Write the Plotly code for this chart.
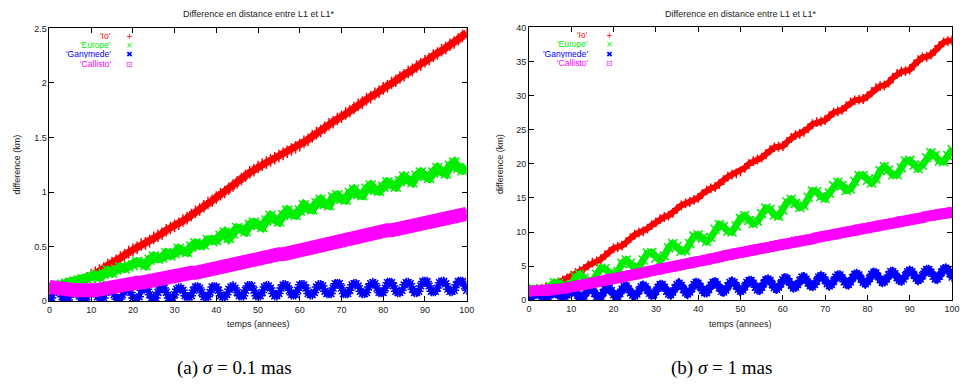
import plotly.graph_objects as go

W, H = 966, 389

# ---------------- data ----------------
years = list(range(101))
half_years = [i / 2 for i in range(201)]

# (a) sigma = 0.1 mas  -- difference in km
io_a = [0.10, 0.11, 0.11, 0.12, 0.13, 0.14, 0.16, 0.17, 0.19, 0.21,
        0.24, 0.26, 0.28, 0.30, 0.33, 0.35, 0.37, 0.40, 0.42, 0.45,
        0.47, 0.49, 0.52, 0.53, 0.55, 0.58, 0.60, 0.62, 0.65, 0.67,
        0.69, 0.71, 0.74, 0.76, 0.79, 0.82, 0.84, 0.87, 0.90, 0.92,
        0.95, 0.98, 1.00, 1.03, 1.06, 1.09, 1.12, 1.15, 1.18, 1.20,
        1.23, 1.25, 1.27, 1.29, 1.31, 1.33, 1.35, 1.37, 1.39, 1.41,
        1.43, 1.46, 1.48, 1.51, 1.54, 1.56, 1.59, 1.62, 1.64, 1.67,
        1.69, 1.72, 1.74, 1.77, 1.80, 1.82, 1.85, 1.87, 1.90, 1.92,
        1.95, 1.97, 2.00, 2.02, 2.05, 2.07, 2.10, 2.12, 2.15, 2.17,
        2.20, 2.22, 2.25, 2.27, 2.30, 2.32, 2.35, 2.37, 2.40, 2.43, 2.46]

europe_a = [0.12, 0.13, 0.14, 0.15, 0.16, 0.17, 0.18, 0.19, 0.20, 0.20,
            0.21, 0.24, 0.22, 0.25, 0.28, 0.26, 0.29, 0.31, 0.30, 0.32,
            0.33, 0.36, 0.35, 0.33, 0.38, 0.41, 0.39, 0.40, 0.44, 0.42,
            0.44, 0.48, 0.46, 0.45, 0.50, 0.53, 0.51, 0.52, 0.56, 0.55,
            0.56, 0.60, 0.63, 0.58, 0.62, 0.67, 0.66, 0.64, 0.70, 0.72,
            0.70, 0.68, 0.74, 0.78, 0.75, 0.73, 0.79, 0.83, 0.80, 0.79,
            0.83, 0.88, 0.85, 0.84, 0.90, 0.93, 0.89, 0.88, 0.95, 0.97,
            0.94, 0.93, 0.99, 1.02, 0.98, 0.97, 1.03, 1.06, 1.02, 1.01,
            1.05, 1.09, 1.07, 1.05, 1.10, 1.14, 1.11, 1.09, 1.15, 1.18,
            1.15, 1.13, 1.18, 1.22, 1.19, 1.17, 1.24, 1.27, 1.22, 1.20, 1.22]

ganymede_a = [0.01, 0.03, 0.08, 0.10, 0.10, 0.09, 0.04, 0.01, 0.01, 0.01,
              0.06, 0.10, 0.10, 0.10, 0.06, 0.02, 0.01, 0.01, 0.04, 0.09,
              0.10, 0.10, 0.09, 0.04, 0.02, 0.02, 0.03, 0.08, 0.11, 0.11,
              0.11, 0.06, 0.02, 0.02, 0.02, 0.06, 0.11, 0.11, 0.11, 0.08,
              0.03, 0.02, 0.02, 0.04, 0.10, 0.12, 0.12, 0.11, 0.06, 0.03,
              0.03, 0.03, 0.08, 0.12, 0.12, 0.12, 0.08, 0.03, 0.03, 0.03,
              0.06, 0.11, 0.12, 0.12, 0.10, 0.05, 0.04, 0.04, 0.05, 0.10,
              0.13, 0.13, 0.12, 0.08, 0.04, 0.04, 0.04, 0.08, 0.13, 0.13,
              0.13, 0.10, 0.05, 0.04, 0.04, 0.06, 0.11, 0.13, 0.14, 0.12,
              0.08, 0.05, 0.05, 0.05, 0.10, 0.14, 0.14, 0.14, 0.10, 0.05,
              0.05, 0.05, 0.08, 0.13, 0.14, 0.14, 0.12, 0.07, 0.05, 0.05,
              0.07, 0.12, 0.15, 0.15, 0.14, 0.10, 0.06, 0.06, 0.06, 0.10,
              0.15, 0.15, 0.15, 0.12, 0.07, 0.06, 0.06, 0.08, 0.13, 0.15,
              0.15, 0.14, 0.09, 0.07, 0.07, 0.07, 0.12, 0.16, 0.16, 0.16,
              0.12, 0.07, 0.07, 0.07, 0.10, 0.15, 0.16, 0.16, 0.14, 0.09,
              0.07, 0.07, 0.08, 0.13, 0.16, 0.17, 0.16, 0.12, 0.08, 0.08,
              0.08, 0.12, 0.17, 0.17, 0.17, 0.14, 0.09, 0.08, 0.08, 0.10,
              0.15, 0.17, 0.17, 0.16, 0.11, 0.08, 0.08, 0.09, 0.14, 0.18,
              0.18, 0.18, 0.14, 0.09, 0.09, 0.09, 0.12, 0.17, 0.18, 0.18,
              0.16, 0.11, 0.09, 0.09, 0.10, 0.15, 0.18, 0.18, 0.18, 0.14,
              0.10]

callisto_a = [0.13, 0.12, 0.12, 0.11, 0.11, 0.10, 0.10, 0.10, 0.09, 0.09,
              0.10, 0.10, 0.11, 0.11, 0.12, 0.12, 0.13, 0.14, 0.15, 0.15,
              0.16, 0.17, 0.17, 0.18, 0.19, 0.19, 0.20, 0.21, 0.21, 0.22,
              0.22, 0.23, 0.24, 0.25, 0.26, 0.26, 0.27, 0.28, 0.29, 0.29,
              0.30, 0.31, 0.32, 0.33, 0.33, 0.34, 0.35, 0.36, 0.37, 0.37,
              0.38, 0.39, 0.40, 0.41, 0.42, 0.43, 0.43, 0.44, 0.45, 0.46,
              0.47, 0.48, 0.49, 0.49, 0.50, 0.51, 0.52, 0.53, 0.53, 0.54,
              0.55, 0.56, 0.57, 0.58, 0.59, 0.59, 0.60, 0.61, 0.62, 0.63,
              0.64, 0.65, 0.65, 0.66, 0.67, 0.68, 0.69, 0.70, 0.70, 0.71,
              0.72, 0.73, 0.74, 0.75, 0.75, 0.76, 0.77, 0.78, 0.79, 0.79, 0.80]

# (b) sigma = 1 mas  -- difference in km
io_b = [1.5, 1.5, 1.6, 1.7, 1.8, 2.0, 2.3, 2.6, 2.9, 3.2,
        3.6, 4.0, 4.3, 4.6, 5.1, 5.5, 5.7, 6.0, 6.6, 7.1,
        7.6, 7.8, 8.0, 8.5, 9.1, 9.6, 9.9, 10.1, 10.5, 11.0,
        11.4, 11.9, 12.2, 12.4, 12.8, 13.4, 13.9, 14.2, 14.4, 14.7,
        15.0, 15.6, 16.1, 16.4, 16.6, 17.0, 17.6, 18.1, 18.4, 18.6,
        18.9, 19.4, 20.0, 20.4, 20.6, 20.9, 21.4, 22.0, 22.4, 22.5,
        22.6, 23.2, 23.8, 24.2, 24.4, 24.7, 25.2, 25.8, 26.1, 26.2,
        26.4, 27.0, 27.5, 27.7, 27.9, 28.4, 29.0, 29.3, 29.4, 29.5,
        29.9, 30.5, 31.1, 31.4, 31.5, 31.9, 32.6, 33.2, 33.5, 33.6,
        33.8, 34.5, 35.2, 35.6, 35.7, 36.0, 36.6, 37.3, 37.8, 38.0, 38.1]

europe_b = [1.5, 1.7, 1.6, 1.4, 1.6, 2.0, 2.6, 2.5, 2.1, 2.0,
            2.3, 3.4, 3.8, 3.2, 2.6, 2.8, 3.8, 4.7, 4.6, 3.9,
            3.5, 4.2, 5.4, 5.9, 5.4, 4.7, 4.9, 5.9, 6.9, 7.0,
            6.2, 5.8, 6.5, 7.7, 8.3, 7.9, 7.2, 7.3, 8.3, 9.4,
            9.6, 9.1, 8.6, 9.2, 10.4, 11.1, 10.8, 10.1, 10.0, 10.9,
            12.0, 12.4, 11.7, 11.2, 11.6, 12.7, 13.5, 13.3, 12.5, 12.3,
            13.2, 14.4, 14.8, 14.2, 13.6, 13.9, 15.1, 16.0, 15.9, 15.2,
            14.9, 15.7, 16.8, 17.3, 16.8, 16.1, 16.3, 17.4, 18.3, 18.3,
            17.6, 17.2, 17.8, 19.0, 19.6, 19.1, 18.4, 18.4, 19.4, 20.4,
            20.5, 19.8, 19.3, 19.8, 20.9, 21.6, 21.2, 20.4, 20.3, 21.2, 22.1]

ganymede_b = [0.3, 0.5, 0.7, 0.9, 1.0, 0.8, 0.6, 0.5, 0.4, 0.5,
              0.8, 1.0, 1.1, 1.0, 0.8, 0.6, 0.5, 0.6, 0.8, 1.0,
              1.7, 1.6, 1.2, 0.7, 0.2, 0.2, 0.6, 1.2, 1.7, 1.8,
              1.6, 1.0, 0.5, 0.3, 0.5, 1.1, 1.6, 1.9, 1.8, 1.4,
              0.8, 0.5, 0.5, 1.0, 1.6, 2.0, 2.1, 1.7, 1.1, 0.7,
              0.6, 0.9, 1.4, 2.0, 2.2, 2.0, 1.5, 1.0, 0.7, 0.8,
              1.3, 1.9, 2.3, 2.3, 1.9, 1.3, 0.9, 0.8, 1.2, 1.8,
              2.3, 2.5, 2.2, 1.6, 1.1, 0.9, 1.2, 1.7, 2.3, 2.6,
              2.5, 2.0, 1.4, 1.1, 1.1, 1.6, 2.2, 2.6, 2.7, 2.3,
              1.8, 1.3, 1.2, 1.5, 2.1, 2.6, 2.8, 2.6, 2.1, 1.6,
              1.3, 1.5, 2.0, 2.6, 2.9, 2.9, 2.5, 1.9, 1.5, 1.5,
              1.9, 2.5, 3.0, 3.1, 2.9, 2.3, 1.8, 1.6, 1.9, 2.4,
              3.0, 3.3, 3.2, 2.7, 2.2, 1.8, 1.9, 2.3, 2.9, 3.4,
              3.4, 3.1, 2.5, 2.1, 2.0, 2.3, 2.8, 3.4, 3.6, 3.4,
              2.9, 2.4, 2.1, 2.3, 2.8, 3.4, 3.7, 3.7, 3.3, 2.7,
              2.3, 2.3, 2.7, 3.3, 3.8, 3.9, 3.7, 3.1, 2.6, 2.4,
              2.7, 3.2, 3.8, 4.1, 4.0, 3.5, 3.0, 2.6, 2.7, 3.1,
              3.7, 4.2, 4.2, 3.9, 3.3, 2.9, 2.8, 3.1, 3.6, 4.2,
              4.4, 4.2, 3.7, 3.2, 2.9, 3.1, 3.6, 4.2, 4.5, 4.5,
              4.1, 3.5, 3.1, 3.1, 3.5, 4.1, 4.6, 4.7, 4.5, 3.9,
              3.4]

callisto_b = [1.3, 1.3, 1.3, 1.3, 1.3, 1.4, 1.5, 1.6, 1.7, 1.8,
              1.9, 2.0, 2.2, 2.3, 2.4, 2.6, 2.7, 2.8, 2.9, 3.1,
              3.2, 3.3, 3.4, 3.6, 3.7, 3.8, 3.9, 4.0, 4.2, 4.3,
              4.4, 4.5, 4.7, 4.8, 4.9, 5.0, 5.2, 5.3, 5.4, 5.6,
              5.7, 5.8, 5.9, 6.1, 6.2, 6.3, 6.5, 6.6, 6.7, 6.9,
              7.0, 7.1, 7.2, 7.4, 7.5, 7.6, 7.7, 7.8, 8.0, 8.1,
              8.2, 8.3, 8.4, 8.6, 8.7, 8.8, 8.9, 9.0, 9.2, 9.3,
              9.4, 9.5, 9.6, 9.8, 9.9, 10.0, 10.1, 10.2, 10.4, 10.5,
              10.6, 10.7, 10.8, 11.0, 11.1, 11.2, 11.3, 11.4, 11.6, 11.7,
              11.8, 11.9, 12.0, 12.1, 12.3, 12.4, 12.5, 12.6, 12.7, 12.8, 12.9]

series_names = ["'Io'", "'Europe'", "'Ganymede'", "'Callisto'"]
colors = ["#ff0000", "#00ee00", "#0000ff", "#ff00ff"]
legend_glyphs = ["+", "×", "✖", "⊡"]

x_ticks = [0, 10, 20, 30, 40, 50, 60, 70, 80, 90, 100]
y_ticks_a = [0, 0.5, 1, 1.5, 2, 2.5]
y_ticks_b = [0, 5, 10, 15, 20, 25, 30, 35, 40]

title_text = "Difference en distance entre L1 et L1*"
xlabel_text = "temps (annees)"
ylabel_text = "difference (km)"
captions = ["(a) <i>σ</i> = 0.1 mas", "(b) <i>σ</i> = 1 mas"]

# ---------------- styling ----------------
SANS = "Liberation Sans, Arial, sans-serif"
SERIF = "Liberation Serif, Times New Roman, serif"


def px_x(p):
    return p / W


def px_y(p):
    return 1 - p / H


fig = go.Figure()

panels = [
    dict(xa="x", ya="y",
         data=[(years, io_a), (years, europe_a), (half_years, ganymede_a), (years, callisto_a)],
         lw=[7, 9, 5, 14], ms=[9, 10, 8, 8]),
    dict(xa="x2", ya="y2",
         data=[(years, io_b), (years, europe_b), (half_years, ganymede_b), (years, callisto_b)],
         lw=[6, 7, 7, 11], ms=[7, 9, 8, 8]),
]
symbols = ["cross-thin-open", "x-thin-open", "asterisk-open", "square-open"]

for p in panels:
    for i, (xs, ys) in enumerate(p["data"]):
        fig.add_trace(go.Scatter(
            x=xs, y=ys, xaxis=p["xa"], yaxis=p["ya"],
            mode="lines+markers",
            line=dict(color=colors[i], width=p["lw"][i]),
            marker=dict(symbol=symbols[i], size=p["ms"][i], color=colors[i],
                        line=dict(color=colors[i], width=1.5)),
            showlegend=False, hoverinfo="skip",
        ))

axis_common = dict(
    showline=True, linecolor="black", linewidth=1, mirror="ticks",
    ticks="inside", ticklen=5, tickcolor="black", tickwidth=1,
    showgrid=False, zeroline=False,
    tickfont=dict(family=SANS, size=9, color="#222"),
)

# plot areas (pixels): a: x 47-469, y 24-304 ; b: x 532-960, y 23-303
fig.update_layout(
    width=W, height=H,
    margin=dict(l=0, r=0, t=0, b=0),
    paper_bgcolor="white", plot_bgcolor="white",
    xaxis=dict(domain=[px_x(47), px_x(469)], range=[0, 100], tickvals=x_ticks,
               anchor="y", **axis_common),
    yaxis=dict(domain=[px_y(304), px_y(24)], range=[0, 2.5], tickvals=y_ticks_a,
               anchor="x", **axis_common),
    xaxis2=dict(domain=[px_x(532), px_x(960)], range=[0, 100], tickvals=x_ticks,
                anchor="y2", **axis_common),
    yaxis2=dict(domain=[px_y(303), px_y(23)], range=[0, 40], tickvals=y_ticks_b,
                anchor="x2", **axis_common),
)

ann = []
# titles, axis labels
for cx, top, bot, lx in [(258, 24, 304, 14), (746, 23, 303, 503)]:
    ann.append(dict(text=title_text, x=px_x(cx), y=px_y(9), xref="paper", yref="paper",
                    showarrow=False, xanchor="center", yanchor="middle",
                    font=dict(family=SANS, size=9, color="#222")))
    ann.append(dict(text=xlabel_text, x=px_x(cx), y=px_y(327), xref="paper", yref="paper",
                    showarrow=False, xanchor="center", yanchor="middle",
                    font=dict(family=SANS, size=9, color="#222")))
    ann.append(dict(text=ylabel_text, x=px_x(lx), y=px_y((top + bot) / 2), xref="paper",
                    yref="paper", showarrow=False, xanchor="center", yanchor="middle",
                    textangle=-90, font=dict(family=SANS, size=9, color="#222")))
# captions
captions_x = [234, 727]
for cap, cx in zip(captions, captions_x):
    ann.append(dict(text=cap, x=px_x(cx), y=px_y(373), xref="paper", yref="paper",
                    showarrow=False, xanchor="center", yanchor="middle",
                    font=dict(family=SERIF, size=19, color="black")))

# legends (text right-aligned, glyph to the right)
for lab_right, glyph_x, rows in [(110, 128, [32, 41.4, 50.8, 60.2]),
                                 (593, 613, [31, 40.4, 49.8, 59.2])]:
    for i, name in enumerate(series_names):
        ann.append(dict(text=name, x=px_x(lab_right), y=px_y(rows[i]), xref="paper",
                        yref="paper", showarrow=False, xanchor="right", yanchor="middle",
                        height=8, borderpad=0,
                        font=dict(family=SANS, size=8.5, color=colors[i])))
        ann.append(dict(text=legend_glyphs[i], x=px_x(glyph_x), y=px_y(rows[i]), xref="paper",
                        yref="paper", showarrow=False, xanchor="center", yanchor="middle",
                        height=8, borderpad=0,
                        font=dict(family="DejaVu Sans", size=8, color=colors[i])))

fig.update_layout(annotations=ann)

fig.write_html(
    "out.html",
    config={"displayModeBar": False, "staticPlot": True},
    post_script="document.body.style.margin='0';document.body.style.padding='0';"
                "document.body.style.overflow='hidden';",
)
